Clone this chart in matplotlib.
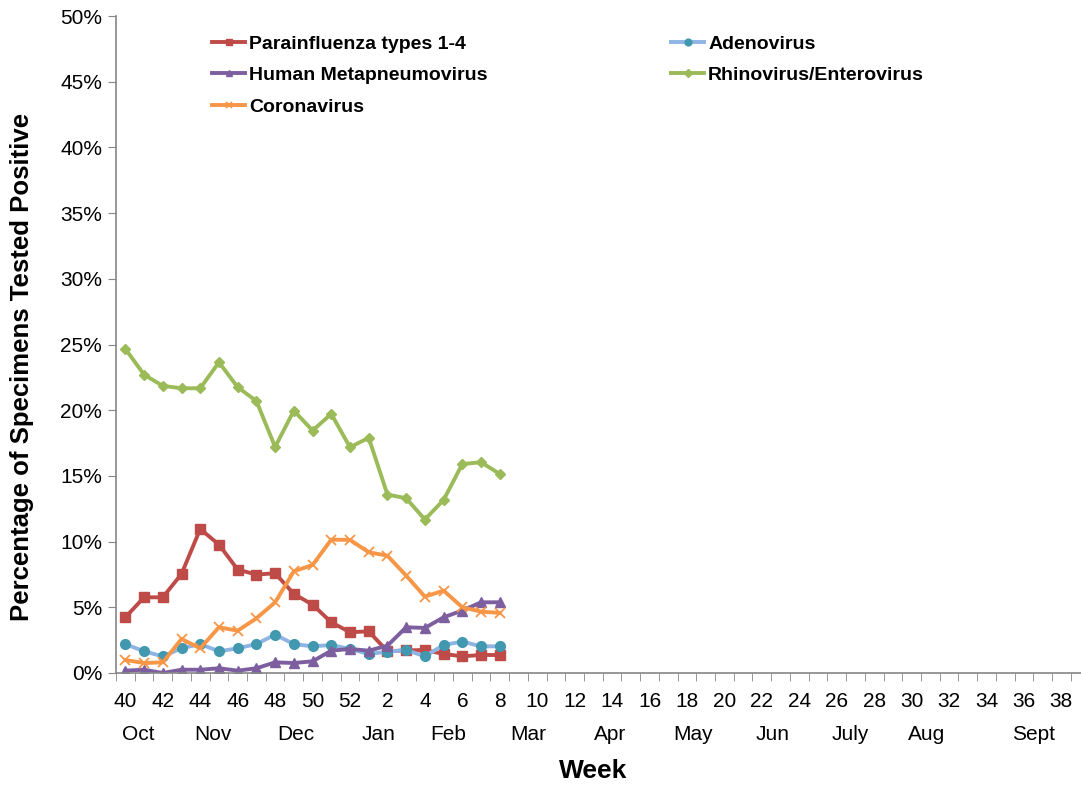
import numpy as np
import matplotlib
matplotlib.use("Agg")
import matplotlib.pyplot as plt
from matplotlib.ticker import FuncFormatter, MultipleLocator
import matplotlib.transforms as mtransforms

plt.rcParams['font.family'] = ['Liberation Sans', 'DejaVu Sans']

# Semanas da temporada (40..52, 1..39)
weeks = list(range(40, 53)) + list(range(1, 40))
tick_labels = [str(w) if i % 2 == 0 else "" for i, w in enumerate(weeks)]

months = ["Oct", "Nov", "Dec", "Jan", "Feb", "Mar", "Apr", "May", "Jun", "July", "Aug", "Sept"]
month_pos = [0.7, 4.7, 9.1, 13.5, 17.25, 21.5, 25.9, 30.3, 34.6, 38.7, 42.8, 48.5]

# Percentuais (semanas 40 a 8)
parainfluenza = [4.24, 5.76, 5.76, 7.54, 10.96, 9.77, 7.87, 7.49, 7.59, 6.02, 5.2,
                 3.86, 3.1, 3.17, 1.65, 1.72, 1.75, 1.45, 1.27, 1.37, 1.37]
adenovirus = [2.2, 1.65, 1.27, 1.88, 2.2, 1.65, 1.88, 2.2, 2.92, 2.2, 2.03,
              2.13, 1.83, 1.45, 1.62, 1.75, 1.27, 2.13, 2.39, 2.03, 2.03]
hmpv = [0.18, 0.25, 0.0, 0.25, 0.25, 0.36, 0.18, 0.36, 0.81, 0.76, 0.89,
        1.7, 1.83, 1.7, 2.08, 3.48, 3.43, 4.24, 4.75, 5.38, 5.38]
rhino = [24.67, 22.7, 21.85, 21.67, 21.67, 23.65, 21.75, 20.7, 17.2, 19.97, 18.45,
         19.72, 17.18, 17.9, 13.58, 13.3, 11.68, 13.17, 15.9, 16.04, 15.15]
corona = [0.99, 0.76, 0.81, 2.59, 1.88, 3.48, 3.22, 4.16, 5.38, 7.74, 8.22,
          10.15, 10.13, 9.19, 8.93, 7.41, 5.81, 6.27, 5.0, 4.67, 4.57]

W, H = 1081, 787
fig = plt.figure(figsize=(W / 100, H / 100), dpi=100)
ax_l, ax_r, ax_t, ax_b = 116, 116 + 52 * 18.72, 16, 673
ax = fig.add_axes([ax_l / W, 1 - ax_b / H, (ax_r - ax_l) / W, (ax_b - ax_t) / H])

x = np.arange(len(rhino))
ax.plot(x, parainfluenza, color='#BE4B48', lw=2.8, marker='s', ms=7, label='Parainfluenza types 1-4')
ax.plot(x, adenovirus, color='#8EB4E3', lw=2.8, marker='o', ms=7, mfc='#4198AF', mec='#4198AF', label='Adenovirus')
ax.plot(x, hmpv, color='#7D5FA0', lw=2.8, marker='^', ms=7, label='Human Metapneumovirus')
ax.plot(x, rhino, color='#9BBB59', lw=2.8, marker='D', ms=5.5, label='Rhinovirus/Enterovirus')
ax.plot(x, corona, color='#F79646', lw=2.8, marker='x', ms=7, mew=1.3, label='Coronavirus')

ax.set_xlim(-0.5, len(weeks) - 0.5)
ax.set_ylim(0, 50)
ax.yaxis.set_major_locator(MultipleLocator(5))
ax.yaxis.set_major_formatter(FuncFormatter(lambda v, p: f"{v:.0f}%"))

ax.set_xticks(np.arange(len(weeks)))
ax.set_xticklabels(tick_labels)
ax.set_xticks(np.arange(len(weeks) + 1) - 0.5, minor=True)
ax.tick_params(axis='x', which='major', length=0, labelsize=15, pad=14)
ax.tick_params(axis='x', which='minor', length=6, color='#868686', direction='out')
ax.tick_params(axis='y', length=6, color='#868686', labelsize=15, pad=4)

for s in ['top', 'right']:
    ax.spines[s].set_visible(False)
for s in ['left', 'bottom']:
    ax.spines[s].set_color('#868686')
    ax.spines[s].set_linewidth(1.2)

trans = mtransforms.blended_transform_factory(ax.transData, ax.transAxes)
for m, p in zip(months, month_pos):
    ax.text(p, -(734 - ax_b) / (ax_b - ax_t), m, transform=trans, ha='center', va='center', fontsize=15)

fig.text(593 / W, 1 - 771 / H, "Week", ha='center', va='center', fontsize=19, fontweight='bold')
fig.text(22 / W, 1 - 367 / H, "Percentage of Specimens Tested Positive", ha='center', va='center',
         rotation=90, fontsize=18.5, fontweight='bold')

handles, labels = ax.get_legend_handles_labels()
order = [0, 2, 4, 1, 3]
ax.legend([handles[i] for i in order], [labels[i] for i in order], ncol=2,
          loc='upper left', bbox_to_anchor=((212 - ax_l) / (ax_r - ax_l), (ax_b - 35) / (ax_b - ax_t)),
          frameon=False, prop={'weight': 'bold', 'size': 14},
          borderpad=0, borderaxespad=0,
          handlelength=1.7, handletextpad=0.2, columnspacing=9.45, labelspacing=0.72, markerscale=0.7)

fig.savefig("out.png", dpi=100)
